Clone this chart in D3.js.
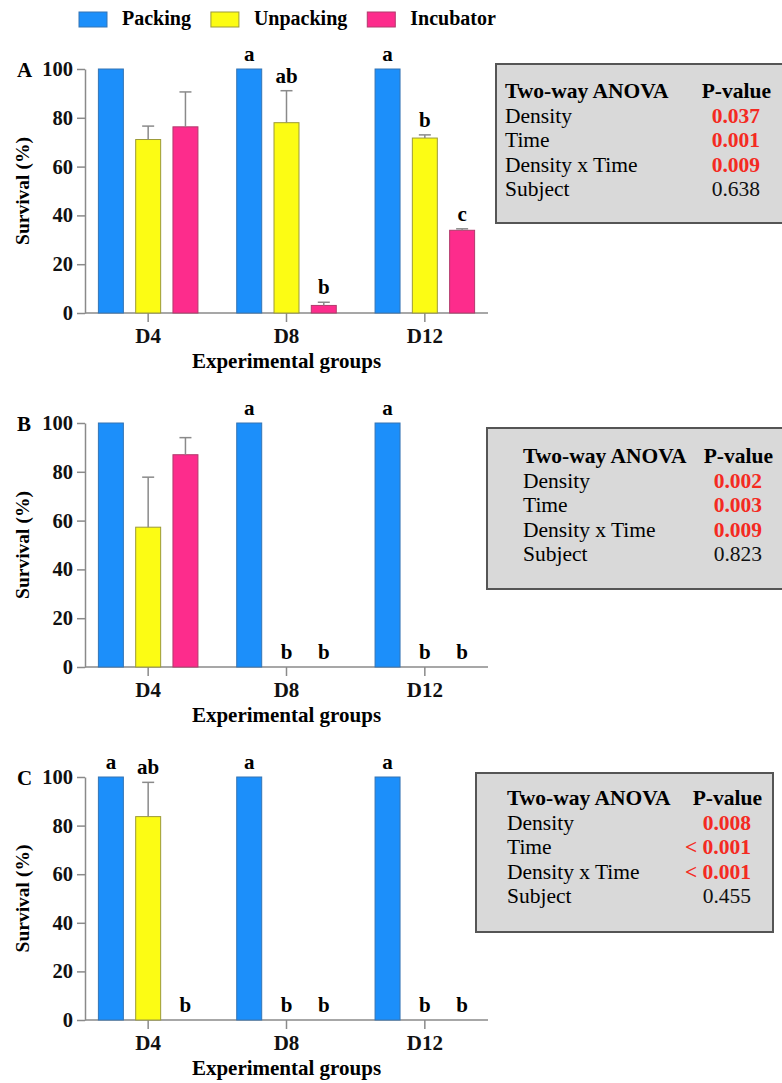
<!DOCTYPE html>
<html>
<head>
<meta charset="utf-8">
<script src="https://cdn.jsdelivr.net/npm/d3@7"></script>
<style>
  body { margin: 0; background: #fff; }
  svg text { font-family: "Liberation Serif", "Times New Roman", Times, Tinos, "DejaVu Serif", "Noto Serif", serif !important; }
</style>
</head>
<body>
<div id="chart"></div>
<script>
const width = 782;
const height = 1083;

// data
const groups = ["D4", "D8", "D12"];
const series = ["Packing", "Unpacking", "Incubator"];
const yTicks = [0, 20, 40, 60, 80, 100];

// survival (%) per group, one value per series
const survivalA = [[100, 71.1, 76.3], [100, 78, 3.1], [100, 71.7, 33.9]];
const errorA = [[0, 5.5, 14.3], [0, 13.1, 1.3], [0, 1.3, 0.6]];
const lettersA = [["", "", ""], ["a", "ab", "b"], ["a", "b", "c"]];

const survivalB = [[100, 57.3, 87], [100, 0, 0], [100, 0, 0]];
const errorB = [[0, 20.5, 7], [0, 0, 0], [0, 0, 0]];
const lettersB = [["", "", ""], ["a", "b", "b"], ["a", "b", "b"]];

const survivalC = [[100, 83.7, 0], [100, 0, 0], [100, 0, 0]];
const errorC = [[0, 14.1, 0], [0, 0, 0], [0, 0, 0]];
const lettersC = [["a", "ab", "b"], ["a", "b", "b"], ["a", "b", "b"]];

const anovaFactors = ["Density", "Time", "Density x Time", "Subject"];
const pValuesA = ["0.037", "0.001", "0.009", "0.638"];
const pValuesB = ["0.002", "0.003", "0.009", "0.823"];
const pValuesC = ["0.008", "< 0.001", "< 0.001", "0.455"];

const colorScale = d3.scaleOrdinal()
    .domain(series)
    .range(["#1c8ffa", "#fcfc14", "#fd2c8c"]);
const strokeScale = d3.scaleOrdinal()
    .domain(series)
    .range(["#3474b4", "#9c9a38", "#b23a6c"]);

const svg = d3.select("#chart")
    .append("svg")
    .attr("width", width)
    .attr("height", height);

// legend
const legend = svg.append("g").attr("transform", "translate(79, 12)");
let lx = 0;
series.forEach(s => {
    legend.append("rect")
        .attr("x", lx).attr("y", 0)
        .attr("width", 28).attr("height", 15)
        .attr("fill", colorScale(s))
        .attr("stroke", strokeScale(s))
        .attr("stroke-width", 1);
    const t = legend.append("text")
        .attr("x", lx + 43).attr("y", 13)
        .style("font-size", "20px")
        .style("font-weight", "bold")
        .text(s);
    lx += 43 + t.node().getComputedTextLength() + 20;
});

const panels = [
    { letter: "A", values: survivalA, errors: errorA, letters: lettersA, pValues: pValuesA,
      y0: 313, y100: 69, box: { x: 496, y: 64, w: 300, h: 159 }, textX: 505, headY: 98, pRight: 771 },
    { letter: "B", values: survivalB, errors: errorB, letters: lettersB, pValues: pValuesB,
      y0: 667, y100: 423, box: { x: 487, y: 428, w: 310, h: 161 }, textX: 523, headY: 463, pRight: 773 },
    { letter: "C", values: survivalC, errors: errorC, letters: lettersC, pValues: pValuesC,
      y0: 1020, y100: 777, box: { x: 476, y: 773, w: 297, h: 159 }, textX: 507, headY: 805, pRight: 762 }
];

const axisLeftX = 85;
const axisRightX = 488;

const x0 = d3.scaleBand()
    .domain(groups)
    .range([79, 494]);

const x1 = d3.scaleBand()
    .domain(series)
    .range([-56, 56])
    .paddingInner(0.33)
    .paddingOuter(0.167);

const axisColor = "#8a8a8a";

panels.forEach(p => {
    const y = d3.scaleLinear().domain([0, 100]).range([p.y0, p.y100]);
    const g = svg.append("g");

    // y axis
    const yAxis = g.append("g")
        .attr("transform", `translate(${axisLeftX},0)`)
        .call(d3.axisLeft(y).tickValues(yTicks).tickSize(8).tickPadding(4).tickSizeOuter(0));
    yAxis.select(".domain").attr("stroke", axisColor).attr("stroke-width", 1.5);
    yAxis.selectAll(".tick line").attr("stroke", axisColor).attr("stroke-width", 1.5);
    yAxis.selectAll(".tick text")
        .attr("fill", "#111")
        .style("font-size", "20.5px")
        .style("font-weight", "bold");

    // x axis
    const xAxis = g.append("g")
        .attr("transform", `translate(0,${p.y0})`)
        .call(d3.axisBottom(x0).tickSize(9).tickPadding(6).tickSizeOuter(0));
    xAxis.select(".domain").remove();
    xAxis.selectAll(".tick line").attr("stroke", axisColor).attr("stroke-width", 1.5);
    xAxis.selectAll(".tick text")
        .attr("fill", "#111")
        .style("font-size", "21px")
        .style("font-weight", "bold");
    g.append("line")
        .attr("x1", axisLeftX).attr("x2", axisRightX)
        .attr("y1", p.y0).attr("y2", p.y0)
        .attr("stroke", axisColor).attr("stroke-width", 1.5);

    // bars
    const rows = groups.map((grp, i) => series.map((s, j) => ({
        group: grp, series: s,
        value: p.values[i][j], err: p.errors[i][j], label: p.letters[i][j]
    }))).flat();

    const bar = g.selectAll(".bar")
        .data(rows.filter(d => d.value > 0))
        .enter().append("g")
        .attr("transform", d => `translate(${x0(d.group) + x0.bandwidth() / 2 + x1(d.series)},0)`);

    bar.append("rect")
        .attr("x", 0)
        .attr("width", x1.bandwidth())
        .attr("y", d => y(d.value))
        .attr("height", d => y(0) - y(d.value))
        .attr("fill", d => colorScale(d.series))
        .attr("stroke", d => strokeScale(d.series))
        .attr("stroke-width", 1);

    // error bars (upper only)
    const eb = bar.filter(d => d.err > 0);
    eb.append("line")
        .attr("x1", x1.bandwidth() / 2).attr("x2", x1.bandwidth() / 2)
        .attr("y1", d => y(d.value)).attr("y2", d => y(d.value + d.err))
        .attr("stroke", axisColor).attr("stroke-width", 1.5);
    eb.append("line")
        .attr("x1", x1.bandwidth() / 2 - 6).attr("x2", x1.bandwidth() / 2 + 6)
        .attr("y1", d => y(d.value + d.err)).attr("y2", d => y(d.value + d.err))
        .attr("stroke", axisColor).attr("stroke-width", 1.5);

    // significance letters
    g.selectAll(".sig")
        .data(rows.filter(d => d.label))
        .enter().append("text")
        .attr("x", d => x0(d.group) + x0.bandwidth() / 2 + x1(d.series) + x1.bandwidth() / 2)
        .attr("y", d => y(d.value + d.err) - 8)
        .attr("text-anchor", "middle")
        .style("font-size", "21px")
        .style("font-weight", "bold")
        .text(d => d.label);

    // panel letter
    g.append("text")
        .attr("x", 17).attr("y", p.y100 + 8)
        .style("font-size", "21px")
        .style("font-weight", "bold")
        .text(p.letter);

    // y label
    g.append("text")
        .attr("transform", `translate(29,${(p.y0 + p.y100) / 2}) rotate(-90)`)
        .attr("text-anchor", "middle")
        .style("font-size", "19.5px")
        .style("font-weight", "bold")
        .text("Survival (%)");

    // x label
    g.append("text")
        .attr("x", x0("D8") + x0.bandwidth() / 2)
        .attr("y", p.y0 + 55)
        .attr("text-anchor", "middle")
        .style("font-size", "21px")
        .style("font-weight", "bold")
        .text("Experimental groups");

    // ANOVA box
    const tb = svg.append("g");
    tb.append("rect")
        .attr("x", p.box.x).attr("y", p.box.y)
        .attr("width", p.box.w).attr("height", p.box.h)
        .attr("fill", "#d9d9d9")
        .attr("stroke", "#555")
        .attr("stroke-width", 2);
    tb.append("text")
        .attr("x", p.textX).attr("y", p.headY)
        .style("font-size", "21.5px").style("font-weight", "bold")
        .text("Two-way ANOVA");
    tb.append("text")
        .attr("x", p.pRight).attr("y", p.headY)
        .attr("text-anchor", "end")
        .style("font-size", "21.5px").style("font-weight", "bold")
        .text("P-value");
    anovaFactors.forEach((f, i) => {
        const ry = p.headY + 24.5 * (i + 1);
        tb.append("text")
            .attr("x", p.textX).attr("y", ry)
            .style("font-size", "21.5px")
            .text(f);
        const pv = p.pValues[i];
        const sig = parseFloat(pv.replace("<", "")) < 0.05;
        tb.append("text")
            .attr("x", p.pRight - 11).attr("y", ry)
            .attr("text-anchor", "end")
            .style("font-size", "21.5px")
            .style("font-weight", sig ? "bold" : "normal")
            .attr("fill", sig ? "#f42a22" : "#111")
            .text(pv);
    });
});
</script>
</body>
</html>
